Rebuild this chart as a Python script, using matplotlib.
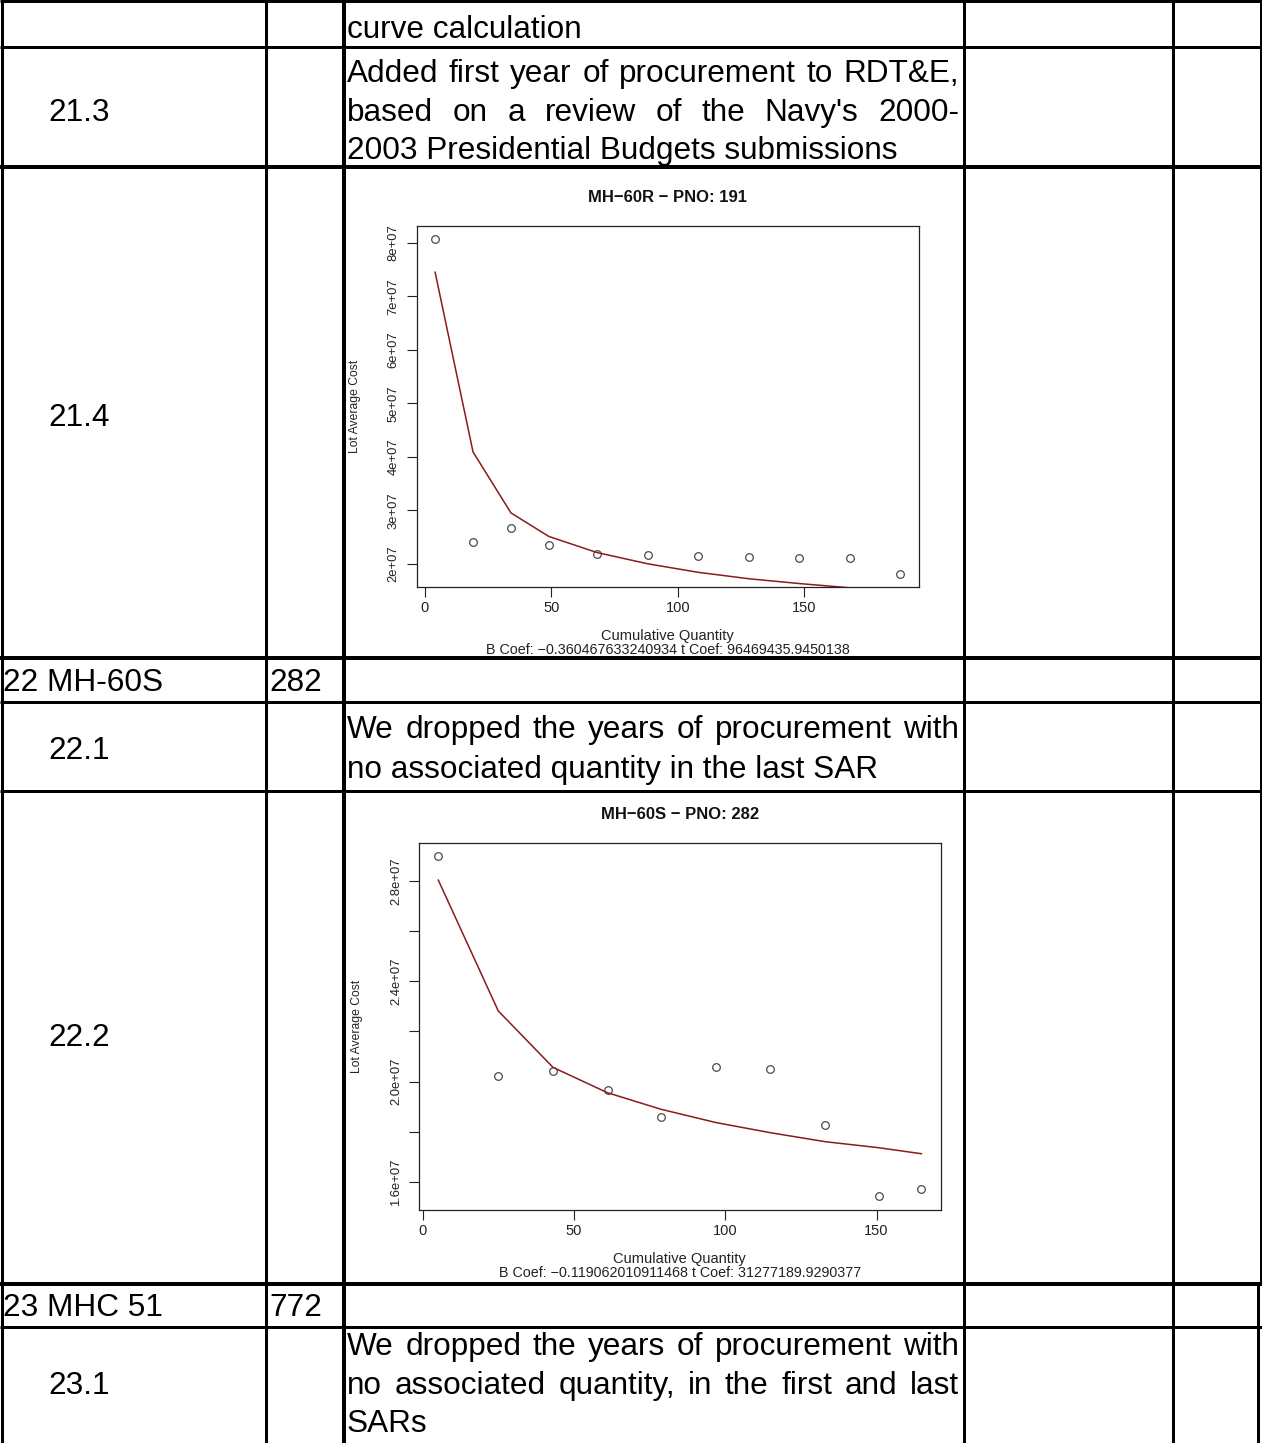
import matplotlib
matplotlib.use("Agg")
import matplotlib.pyplot as plt

# MH-60R (PNO 191) lot data
r_qty = [4, 19, 34, 49, 68, 88, 108, 128, 148, 168, 188]
r_cost = [8.07e7, 2.405e7, 2.66e7, 2.355e7, 2.19e7, 2.17e7, 2.15e7, 2.12e7, 2.10e7, 2.10e7, 1.81e7]
r_fit = [7.45e7, 4.09e7, 2.95e7, 2.51e7, 2.21e7, 2.0e7, 1.84e7, 1.72e7, 1.63e7, 1.55e7, 1.48e7]
r_yticks = [2e7, 3e7, 4e7, 5e7, 6e7, 7e7, 8e7]
r_ylabels = ["2e+07", "3e+07", "4e+07", "5e+07", "6e+07", "7e+07", "8e+07"]

# MH-60S (PNO 282)
s_qty = [5.2, 25.0, 43.1, 61.1, 78.8, 97.0, 114.8, 133.0, 150.7, 164.8]
s_cost = [2.898e7, 2.023e7, 2.041e7, 1.965e7, 1.859e7, 2.058e7, 2.049e7, 1.827e7, 1.543e7, 1.574e7]
s_fit = [2.803e7, 2.282e7, 2.057e7, 1.956e7, 1.890e7, 1.837e7, 1.797e7, 1.761e7, 1.737e7, 1.713e7]
s_yticks = [1.6e7, 1.8e7, 2.0e7, 2.2e7, 2.4e7, 2.6e7, 2.8e7]
s_ylabels = ["1.6e+07", "", "2.0e+07", "", "2.4e+07", "", "2.8e+07"]

x_ticks = [0, 50, 100, 150]

plt.rcParams["font.family"] = ["Liberation Sans", "DejaVu Sans"]

W, H = 1262, 1443
fig = plt.figure(figsize=(W / 100, H / 100), dpi=100)

# table background, pixel coordinates
bg = fig.add_axes([0, 0, 1, 1])
bg.set_xlim(0, W)
bg.set_ylim(H, 0)
bg.axis("off")

def hline(y, lw=3):
    bg.plot([0, W], [y, y], color="black", lw=lw * 0.72, solid_capstyle="butt")

def vline(x, y0=0, y1=H, lw=3):
    bg.plot([x, x], [y0, y1], color="black", lw=lw * 0.72, solid_capstyle="butt")

for y, lw in [(1, 3), (47, 3), (167, 4), (658, 4), (702, 3), (791, 3), (1284, 4), (1327, 3)]:
    hline(y, lw)
vline(1.5)
vline(266)
vline(344, lw=4)
vline(964)
vline(1173)
vline(1260.5, 0, 1284)
vline(1258, 1284, H)

FS = 22.7
DY = 3
renderer = fig.canvas.get_renderer()

def cell_text(x, y, s):
    bg.text(x, y + DY, s, fontsize=FS, ha="left", va="center")

def desc_line(y, s, justify=False, x0=347, x1=959):
    if not justify:
        bg.text(x0, y + DY, s, fontsize=FS, ha="left", va="center")
        return
    words = s.split(" ")
    texts = [bg.text(0, y + DY, w, fontsize=FS, ha="left", va="center") for w in words]
    widths = [t.get_window_extent(renderer).width for t in texts]
    gap = (x1 - x0 - sum(widths)) / (len(words) - 1)
    x = x0
    for t, w in zip(texts, widths):
        t.set_x(x)
        x += w + gap

desc_line(27, "curve calculation")
cell_text(48, 110, "21.3")
desc_line(71, "Added first year of procurement to RDT&E,", True)
desc_line(110, "based on a review of the Navy's 2000-", True)
desc_line(148, "2003 Presidential Budgets submissions")
cell_text(48, 415, "21.4")
cell_text(3, 680, "22 MH-60S")
cell_text(269, 680, "282")
cell_text(48, 748, "22.1")
desc_line(727, "We dropped the years of procurement with", True)
desc_line(767, "no associated quantity in the last SAR")
cell_text(48, 1035, "22.2")
cell_text(3, 1305, "23 MHC 51")
cell_text(269, 1305, "772")
cell_text(48, 1383, "23.1")
desc_line(1344, "We dropped the years of procurement with", True)
desc_line(1383, "no associated quantity, in the first and last", True)
desc_line(1421, "SARs")


def curve_plot(box, title, qty, cost, fit, yticks, ylabels, coef, ylab_x):
    l, t, r, b = box
    ax = fig.add_axes([l / W, 1 - b / H, (r - l) / W, (b - t) / H])
    ax.set_facecolor("none")
    ax.plot(qty, cost, "o", mfc="none", mec="#4a4a4a", ms=5.5, mew=0.9)
    ax.plot(qty, fit, color="#8B1A1A", lw=1.1)
    xr = max(qty) - min(qty)
    yr = max(cost) - min(cost)
    ax.set_xlim(min(qty) - 0.04 * xr, max(qty) + 0.04 * xr)
    ax.set_ylim(min(cost) - 0.04 * yr, max(cost) + 0.04 * yr)
    ax.set_xticks(x_ticks)
    ax.set_xticklabels([str(v) for v in x_ticks], fontsize=10.5)
    ax.set_yticks(yticks)
    ax.set_yticklabels(ylabels, rotation=90, ha="right", va="center", fontsize=9.4)
    ax.tick_params(direction="out", length=7.2, width=0.8, colors="#222222", pad=3)
    ax.tick_params(axis="y", pad=5)
    for sp in ax.spines.values():
        sp.set_color("#222222")
        sp.set_linewidth(0.9)
    h = b - t
    w = r - l
    ax.text(0.5, 1 + 28 / h, title, transform=ax.transAxes, ha="center", va="center",
            fontsize=12, fontweight="bold", color="#111111")
    ax.text((ylab_x - l) / w, 0.5, "Lot Average Cost", transform=ax.transAxes, rotation=90,
            ha="center", va="center", fontsize=8.7, color="#222222")
    ax.text(0.5, -49 / h, "Cumulative Quantity", transform=ax.transAxes, ha="center",
            va="center", fontsize=10.5, color="#222222")
    ax.text(0.5, -63 / h, coef, transform=ax.transAxes, ha="center",
            va="center", fontsize=10.3, color="#222222")
    return ax


curve_plot((416.5, 225.7, 919, 587.3), "MH\u221260R \u2212 PNO: 191", r_qty, r_cost, r_fit,
           r_yticks, r_ylabels, "B Coef: \u22120.360467633240934 t Coef: 96469435.9450138", 355)
curve_plot((419, 842.7, 940.7, 1210), "MH\u221260S \u2212 PNO: 282", s_qty, s_cost, s_fit,
           s_yticks, s_ylabels, "B Coef: \u22120.119062010911468 t Coef: 31277189.9290377", 357)

fig.savefig("out.png", dpi=100)
